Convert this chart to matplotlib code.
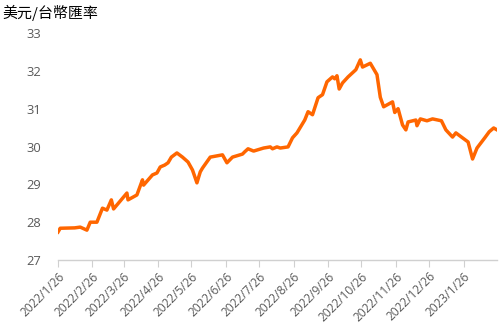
import matplotlib
matplotlib.use("Agg")
import matplotlib.pyplot as plt
import pandas as pd

plt.rcParams['font.family'] = ['Noto Sans CJK TC', 'DejaVu Sans']

title = "美元/台幣匯率"
dates = ["2022-01-26", "2022-01-28", "2022-02-10", "2022-02-15", "2022-02-21", "2022-02-24",
         "2022-03-02", "2022-03-07", "2022-03-11", "2022-03-15", "2022-03-17", "2022-03-29",
         "2022-03-30", "2022-04-07", "2022-04-12", "2022-04-13", "2022-04-21", "2022-04-25",
         "2022-04-28", "2022-05-02", "2022-05-05", "2022-05-08", "2022-05-13", "2022-05-18",
         "2022-05-23", "2022-05-27", "2022-05-31", "2022-06-03", "2022-06-05", "2022-06-12",
         "2022-06-23", "2022-06-27", "2022-07-02", "2022-07-11", "2022-07-13", "2022-07-16",
         "2022-07-21", "2022-07-30", "2022-08-05", "2022-08-07", "2022-08-11", "2022-08-14",
         "2022-08-21", "2022-08-25", "2022-08-29", "2022-09-05", "2022-09-08", "2022-09-12",
         "2022-09-17", "2022-09-21", "2022-09-25", "2022-09-30", "2022-10-02", "2022-10-04",
         "2022-10-06", "2022-10-09", "2022-10-14", "2022-10-21", "2022-10-25", "2022-10-27",
         "2022-11-03", "2022-11-09", "2022-11-12", "2022-11-15", "2022-11-23", "2022-11-25",
         "2022-11-28", "2022-12-02", "2022-12-05", "2022-12-07", "2022-12-14", "2022-12-15",
         "2022-12-18", "2022-12-24", "2022-12-29", "2023-01-06", "2023-01-10", "2023-01-16",
         "2023-01-19", "2023-01-30", "2023-02-03", "2023-02-07", "2023-02-14", "2023-02-18",
         "2023-02-22", "2023-02-25"]
rates = [27.74, 27.84, 27.85, 27.87, 27.79, 28.00,
         28.00, 28.37, 28.32, 28.59, 28.35, 28.77,
         28.59, 28.72, 29.12, 28.98, 29.25, 29.30,
         29.46, 29.51, 29.57, 29.72, 29.83, 29.72,
         29.59, 29.38, 29.04, 29.33, 29.43, 29.72,
         29.78, 29.57, 29.72, 29.80, 29.86, 29.94,
         29.88, 29.96, 29.99, 29.94, 29.99, 29.96,
         29.99, 30.23, 30.36, 30.70, 30.92, 30.84,
         31.29, 31.37, 31.71, 31.84, 31.79, 31.87,
         31.52, 31.68, 31.84, 32.03, 32.29, 32.10,
         32.20, 31.90, 31.30, 31.05, 31.18, 30.90,
         31.00, 30.57, 30.44, 30.65, 30.70, 30.55,
         30.73, 30.68, 30.73, 30.68, 30.44, 30.25,
         30.36, 30.12, 29.67, 29.96, 30.23, 30.39,
         30.49, 30.44]
tick_dates = ["2022-01-26", "2022-02-26", "2022-03-26", "2022-04-26", "2022-05-26",
              "2022-06-26", "2022-07-26", "2022-08-26", "2022-09-26", "2022-10-26",
              "2022-11-26", "2022-12-26", "2023-01-26"]
tick_labels = ["2022/1/26", "2022/2/26", "2022/3/26", "2022/4/26", "2022/5/26",
               "2022/6/26", "2022/7/26", "2022/8/26", "2022/9/26", "2022/10/26",
               "2022/11/26", "2022/12/26", "2023/1/26"]
y_ticks = [27, 28, 29, 30, 31, 32, 33]

x = pd.to_datetime(dates)
fig = plt.figure(figsize=(5, 3.3), dpi=100)
ax = fig.add_axes([0.116, 0.212, 0.878, 0.688])
ax.plot(x, rates, color='#FF6600', lw=2.5, solid_joinstyle='round')

ax.set_xlim(pd.Timestamp("2022-01-26"), pd.Timestamp("2023-02-25"))
ax.set_ylim(27, 33)
ax.set_yticks(y_ticks)
ax.set_yticklabels([str(v) for v in y_ticks], family=['Open Sans'])
ax.set_xticks(pd.to_datetime(tick_dates))
ax.set_xticklabels(tick_labels, rotation=45, ha='right', rotation_mode='anchor',
                   family=['Open Sans'])
ax.tick_params(axis='y', length=0, pad=12, labelsize=9.3, labelcolor='#595959')
ax.tick_params(axis='x', length=5, width=0.8, color='#D0D0D0', pad=2,
               labelsize=8.6, labelcolor='#595959')
for s in ['top', 'right', 'left']:
    ax.spines[s].set_visible(False)
ax.spines['bottom'].set_color('#D0D0D0')
ax.spines['bottom'].set_linewidth(1)

fig.text(0.004, 0.96, title, fontsize=10.8, color='#000000', va='center', ha='left')
fig.savefig("out.png", dpi=100)
